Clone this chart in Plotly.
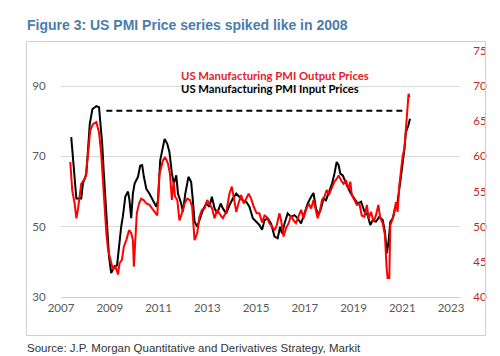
import plotly.graph_objects as go

# ---- data (decimal years, index values) ----
input_years = [2007.42, 2007.49, 2007.56, 2007.63, 2007.83, 2007.90, 2008.04, 2008.11, 2008.18, 2008.29,
               2008.45, 2008.56, 2008.61, 2008.69, 2008.75, 2008.83, 2008.89, 2008.97, 2009.06, 2009.20,
               2009.30, 2009.38, 2009.47, 2009.54, 2009.64, 2009.75, 2009.81, 2009.88, 2009.95, 2010.02,
               2010.16, 2010.25, 2010.33, 2010.40, 2010.50, 2010.63, 2010.77, 2010.91, 2010.98, 2011.07,
               2011.25, 2011.36, 2011.45, 2011.55, 2011.63, 2011.73, 2011.80, 2011.93, 2012.00, 2012.10,
               2012.23, 2012.34, 2012.41, 2012.48, 2012.59, 2012.68, 2012.82, 2012.96, 2013.09, 2013.19,
               2013.30, 2013.41, 2013.55, 2013.64, 2013.78, 2013.91, 2014.05, 2014.19, 2014.32, 2014.46,
               2014.60, 2014.73, 2014.87, 2015.00, 2015.14, 2015.25, 2015.35, 2015.48, 2015.62, 2015.76,
               2015.89, 2015.99, 2016.07, 2016.17, 2016.30, 2016.44, 2016.58, 2016.71, 2016.85, 2016.99,
               2017.12, 2017.26, 2017.36, 2017.46, 2017.56, 2017.67, 2017.77, 2017.87, 2017.98, 2018.12,
               2018.22, 2018.31, 2018.39, 2018.46, 2018.56, 2018.67, 2018.76, 2018.90, 2019.04, 2019.17,
               2019.31, 2019.45, 2019.58, 2019.69, 2019.79, 2019.92, 2020.06, 2020.20, 2020.29, 2020.37,
               2020.44, 2020.51, 2020.61, 2020.70, 2020.81, 2020.91, 2020.99, 2021.09, 2021.15, 2021.25,
               2021.32]
input_prices = [75.5, 68.9, 62.3, 58.0, 58.0, 62.3, 65.0, 72.7, 79.2, 83.5,
                84.3, 84.0, 80.2, 73.6, 66.0, 56.6, 48.1, 41.5, 36.8, 38.8,
                39.0, 45.3, 50.0, 53.0, 58.6, 60.0, 57.5, 52.4, 59.4, 62.3,
                64.2, 67.4, 67.5, 64.2, 60.8, 59.4, 57.5, 55.7, 57.5, 68.9,
                75.0, 73.6, 71.2, 65.1, 62.3, 64.6, 59.4, 56.6, 54.3, 59.4,
                64.2, 62.7, 57.5, 51.4, 50.0, 51.9, 54.7, 56.6, 55.7, 58.5,
                55.2, 53.8, 56.6, 55.2, 53.8, 56.1, 58.0, 59.4, 58.5, 57.5,
                57.1, 55.7, 52.4, 51.4, 50.5, 49.1, 51.9, 52.4, 50.9, 47.2,
                46.7, 50.0, 48.1, 50.9, 53.8, 52.8, 53.3, 52.4, 50.9, 53.8,
                56.6, 58.5, 59.6, 55.2, 53.3, 55.2, 58.0, 57.5, 59.4, 62.3,
                65.1, 68.4, 67.5, 65.1, 64.6, 62.7, 61.3, 59.4, 58.0, 56.6,
                57.1, 54.3, 53.3, 50.5, 51.9, 51.4, 52.8, 51.9, 48.6, 42.5,
                45.8, 51.4, 52.4, 55.2, 57.1, 61.8, 66.5, 72.2, 76.9, 78.8,
                80.7]

output_years = [2007.38, 2007.46, 2007.56, 2007.63, 2007.70, 2007.83, 2007.93, 2008.01, 2008.11, 2008.20,
                2008.31, 2008.45, 2008.56, 2008.65, 2008.72, 2008.79, 2008.86, 2008.93, 2009.02, 2009.13,
                2009.24, 2009.34, 2009.40, 2009.50, 2009.58, 2009.68, 2009.79, 2009.88, 2009.95, 2009.99,
                2010.05, 2010.11, 2010.20, 2010.29, 2010.39, 2010.50, 2010.63, 2010.74, 2010.84, 2010.95,
                2011.04, 2011.18, 2011.27, 2011.39, 2011.47, 2011.55, 2011.62, 2011.68, 2011.77, 2011.86,
                2011.96, 2012.07, 2012.18, 2012.29, 2012.38, 2012.48, 2012.59, 2012.68, 2012.78, 2012.89,
                2013.00, 2013.09, 2013.20, 2013.30, 2013.41, 2013.55, 2013.64, 2013.78, 2013.91, 2014.01,
                2014.09, 2014.19, 2014.28, 2014.39, 2014.50, 2014.60, 2014.70, 2014.80, 2014.91, 2015.03,
                2015.14, 2015.25, 2015.35, 2015.44, 2015.55, 2015.66, 2015.76, 2015.85, 2015.96, 2016.03,
                2016.13, 2016.23, 2016.34, 2016.44, 2016.54, 2016.64, 2016.75, 2016.85, 2016.95, 2017.05,
                2017.16, 2017.26, 2017.36, 2017.44, 2017.53, 2017.63, 2017.71, 2017.81, 2017.90, 2018.01,
                2018.12, 2018.22, 2018.31, 2018.39, 2018.49, 2018.59, 2018.69, 2018.79, 2018.87, 2018.93,
                2019.04, 2019.14, 2019.24, 2019.34, 2019.45, 2019.55, 2019.62, 2019.72, 2019.82, 2019.92,
                2020.02, 2020.10, 2020.20, 2020.29, 2020.36, 2020.40, 2020.47, 2020.51, 2020.58, 2020.65,
                2020.74, 2020.81, 2020.88, 2020.95, 2021.02, 2021.09, 2021.15, 2021.22, 2021.26, 2021.30]
output_prices = [59.2, 55.2, 53.3, 51.2, 52.6, 56.1, 56.6, 57.1, 60.4, 63.7,
                 64.6, 64.9, 63.4, 60.4, 56.6, 52.4, 49.1, 46.7, 45.3, 43.9,
                 44.3, 43.2, 44.8, 45.3, 47.2, 48.1, 49.5, 49.1, 48.1, 44.3,
                 48.1, 51.9, 53.3, 54.0, 53.8, 53.3, 53.1, 52.6, 52.1, 51.6,
                 57.5, 59.4, 59.9, 59.0, 57.5, 53.8, 56.4, 54.3, 53.8, 50.9,
                 51.9, 53.3, 54.0, 53.8, 52.8, 48.1, 49.1, 51.4, 52.4, 52.6,
                 53.8, 53.3, 52.6, 51.2, 52.4, 51.6, 51.2, 52.1, 54.7, 55.7,
                 53.8, 52.1, 53.3, 54.5, 53.3, 54.0, 54.7, 54.0, 52.8, 51.9,
                 51.9, 50.6, 51.6, 51.4, 50.5, 50.0, 49.5, 50.2, 51.9, 50.9,
                 48.6, 49.8, 50.5, 51.6, 50.9, 50.5, 51.4, 52.4, 51.2, 52.4,
                 53.3, 52.6, 53.8, 52.4, 51.2, 52.4, 53.8, 54.3, 55.2, 54.7,
                 55.7, 56.4, 56.8, 57.3, 56.6, 56.1, 56.6, 55.4, 56.4, 54.5,
                 53.8, 53.1, 53.3, 51.6, 51.4, 53.1, 51.2, 52.1, 50.7, 51.6,
                 53.1, 51.2, 50.5, 48.8, 44.1, 42.7, 42.7, 50.2, 50.9, 51.6,
                 53.5, 52.1, 55.9, 58.3, 60.1, 61.1, 63.9, 66.3, 68.9, 68.4]

ref_years = [2008.86, 2021.02]
ref_level = [83.0, 83.0]

left_ticks = [30, 50, 70, 90]
right_ticks = [40, 45, 50, 55, 60, 65, 70, 75]
year_ticks = [2007, 2009, 2011, 2013, 2015, 2017, 2019, 2021, 2023]

title_text = "Figure 3: US PMI Price series spiked like in 2008"
source_text = "Source: J.P. Morgan Quantitative and Derivatives Strategy, Markit"
output_label = "US Manufacturing PMI Output Prices"
input_label = "US Manufacturing PMI Input Prices"

# ---- figure ----
W, H = 500, 356
L, R, T, B = 53, 48, 43, 67
pw, ph = W - L - R, H - T - B

def px(xp):
    return (xp - L) / pw

def py(yp):
    return (H - B - yp) / ph

tick_font = dict(family="Lato, Carlito, Calibri, sans-serif", size=11.5, color="#595959")
red_tick_font = dict(family="Lato, Carlito, Calibri, sans-serif", size=11.5, color="#C0282D")
narrow = "Liberation Sans Narrow, Arial Narrow, Liberation Sans, Arial, sans-serif"

fig = go.Figure()
fig.add_trace(go.Scatter(x=input_years, y=input_prices, mode="lines",
                         line=dict(color="#000000", width=2), yaxis="y", name=input_label))
fig.add_trace(go.Scatter(x=ref_years, y=ref_level, mode="lines",
                         line=dict(color="#000000", width=2, dash="6px,4px"), yaxis="y", name="ref"))
fig.add_trace(go.Scatter(x=output_years, y=output_prices, mode="lines",
                         line=dict(color="#FF0000", width=2), yaxis="y2", name=output_label))

fig.update_layout(
    width=W, height=H,
    margin=dict(l=L, r=R, t=T, b=B),
    paper_bgcolor="white", plot_bgcolor="rgba(0,0,0,0)",
    showlegend=False,
    xaxis=dict(range=[2007, 2023.37], tickvals=year_ticks, ticktext=[str(v) for v in year_ticks],
               showgrid=False, zeroline=False, showline=True, linecolor="#D0D0D0", linewidth=1,
               ticks="", tickfont=tick_font),
    yaxis=dict(range=[30, 100], tickvals=left_ticks, showgrid=True, gridcolor="#D9D9D9",
               gridwidth=1, zeroline=False, showline=False, ticks="outside", ticklen=12,
               tickcolor="rgba(0,0,0,0)", tickfont=tick_font),
    yaxis2=dict(range=[40, 75], tickvals=right_ticks, overlaying="y", side="right",
                showgrid=False, zeroline=False, showline=False, ticks="outside", ticklen=10,
                tickcolor="rgba(0,0,0,0)", tickfont=red_tick_font),
)

# outer frame
fig.add_shape(type="rect", xref="paper", yref="paper",
              x0=px(18.5), x1=px(477.5), y0=py(327.5), y1=py(33.5),
              line=dict(color="#CFCFCF", width=1), fillcolor="rgba(0,0,0,0)", layer="above")

fig.add_annotation(text="<b>" + title_text + "</b>", xref="paper", yref="paper",
                   x=px(17), y=py(17), xanchor="left", yanchor="middle", showarrow=False,
                   font=dict(family=narrow, size=14, color="#4A7DAA"))
fig.add_annotation(text=source_text, xref="paper", yref="paper",
                   x=px(17), y=py(340), xanchor="left", yanchor="middle", showarrow=False,
                   font=dict(family=narrow, size=11.5, color="#333333"))
fig.add_annotation(text="<b>" + output_label + "</b>", xref="paper", yref="paper",
                   x=px(171), y=py(67), xanchor="left", yanchor="middle", showarrow=False,
                   font=dict(family="Lato, Carlito, Calibri, sans-serif", size=11.3, color="#E3202A"))
fig.add_annotation(text="<b>" + input_label + "</b>", xref="paper", yref="paper",
                   x=px(171), y=py(80), xanchor="left", yanchor="middle", showarrow=False,
                   font=dict(family="Lato, Carlito, Calibri, sans-serif", size=11.3, color="#000000"))

fig.write_html("out.html")
